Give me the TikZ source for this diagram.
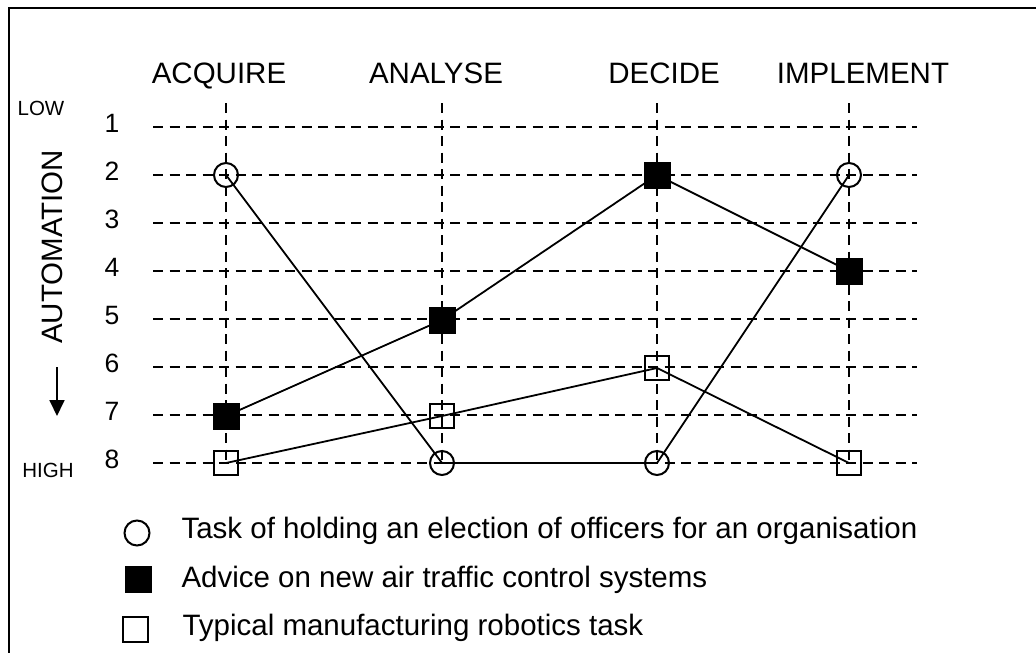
\documentclass[tikz,border=0pt]{standalone}
\usepackage{fontspec}
\setmainfont{Liberation Sans}
\usetikzlibrary{arrows.meta}
\begin{document}
\begin{tikzpicture}[x=1pt,y=-1pt,
  grid/.style={line width=2pt, dash pattern=on 10pt off 6.5pt},
  conn/.style={line width=1.8pt},
  circmark/.style={circle, draw, line width=2pt, minimum size=24pt, inner sep=0pt},
  fillmark/.style={rectangle, draw, fill=black, line width=1pt, minimum size=26pt, inner sep=0pt},
  openmark/.style={rectangle, draw, line width=2pt, minimum size=24pt, inner sep=0pt},
  head/.style={font=\fontsize{29.5}{33}\selectfont, anchor=base},
  num/.style={font=\fontsize{26.5}{30}\selectfont, anchor=base},
  small/.style={font=\fontsize{20.5}{24}\selectfont, anchor=base},
  legtext/.style={font=\fontsize{29.5}{33}\selectfont, anchor=base west}]
\useasboundingbox (0,0) rectangle (1036,653);
\fill[white] (0,0) rectangle (1036,653);
% frame (cut off at right and bottom)
\coordinate (fa) at (9,653);
\coordinate (fb) at (9,8);
\coordinate (fc) at (1036,8);
\draw[line width=2.2pt] (fa) -- (fb) -- (fc);
% column headers
\node[head] (hA) at (219,83) {ACQUIRE};
\node[head] (hB) at (436,83) {ANALYSE};
\node[head] (hC) at (664,83) {DECIDE};
\node[head] (hD) at (863,83) {IMPLEMENT};
% grid
\foreach \k in {1,...,8} {
  \pgfmathsetmacro{\yy}{127+(\k-1)*48}
  \coordinate (rl\k) at (153,\yy);
  \coordinate (rr\k) at (917,\yy);
  \draw[grid] (rl\k) -- (rr\k);
  \node[num] (n\k) at (112,\yy+5) {\k};
}
\foreach \c/\xx in {A/226,B/442,C/657,D/849} {
  \coordinate (ct\c) at (\xx,103);
  \coordinate (cb\c) at (\xx,466);
  \draw[grid] (ct\c) -- (cb\c);
}
% axis labels
\node[small] (low) at (41,115) {LOW};
\node[small] (high) at (48,477) {HIGH};
\node[head, rotate=90] (auto) at (62,247) {AUTOMATION};
\coordinate (ar1) at (57,367);
\coordinate (ar2) at (57,416);
\draw[line width=1.8pt, -{Triangle[length=16pt,width=15pt]}] (ar1) -- (ar2);
% series: circles
\node[circmark] (c1) at (226,175) {};
\node[circmark] (c2) at (442,463) {};
\node[circmark] (c3) at (657,463) {};
\node[circmark] (c4) at (849,175) {};
\draw[conn] (c1.center) -- (c2.center) -- (c3.center) -- (c4.center);
% series: filled squares
\node[fillmark] (f1) at (226,416) {};
\node[fillmark] (f2) at (442,320) {};
\node[fillmark] (f3) at (657,175) {};
\node[fillmark] (f4) at (849,271) {};
\draw[conn] (f1.center) -- (f2.center) -- (f3.center) -- (f4.center);
% series: open squares
\node[openmark] (o1) at (226,463) {};
\node[openmark] (o2) at (442,416) {};
\node[openmark] (o3) at (657,368) {};
\node[openmark] (o4) at (849,463) {};
\draw[conn] (o1.center) -- (o2.center) -- (o3.center) -- (o4.center);
% legend
\node[circmark, minimum size=25pt] (lc) at (137,533) {};
\node[legtext] (lct) at (178,538) {Task of holding an election of officers for an organisation};
\node[fillmark] (lf) at (138,579) {};
\node[legtext] (lft) at (178,587) {Advice on new air traffic control systems};
\node[openmark, minimum size=25pt] (lo) at (135.5,629.5) {};
\node[legtext] (lot) at (179,635) {Typical manufacturing robotics task};
\end{tikzpicture}
\end{document}
